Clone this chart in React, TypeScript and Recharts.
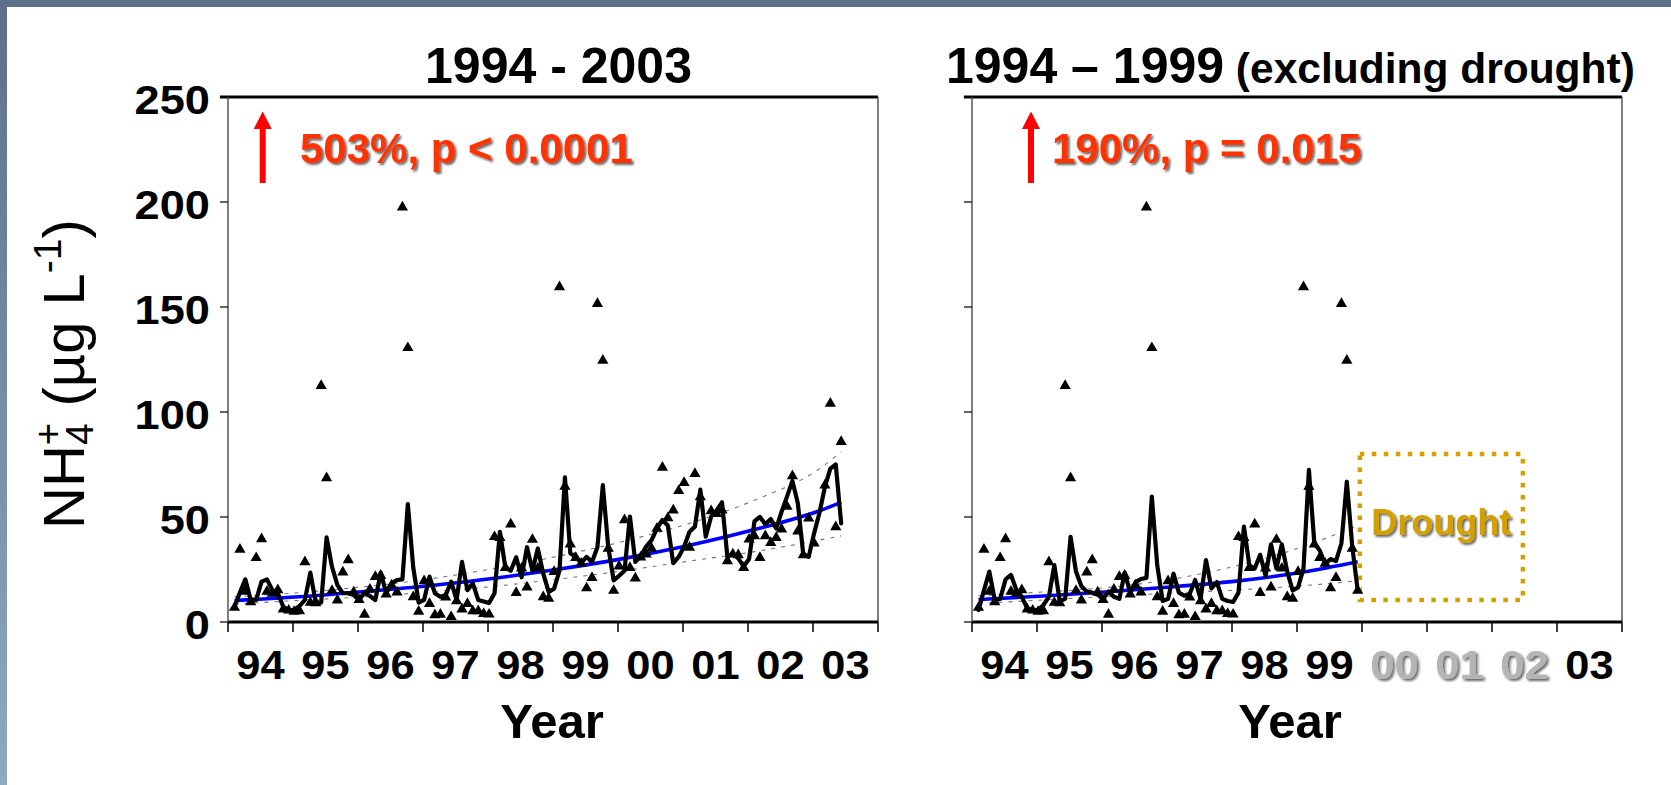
import React from "react";
import {
  ComposedChart,
  Line,
  Scatter,
  XAxis,
  YAxis,
  ReferenceLine,
  ReferenceArea,
} from "recharts";

const FONT = '"Liberation Sans", Arial, Helvetica, sans-serif';

// Monthly NH4+ samples, index 0 = February 1994 (month 1 counted from Jan 1994)
const firstMonth = 1;

const nh4Observed: (number | null)[] = [
  7.3, 35, 15, 10, 31, 40, 15, 14, 15.7, 6.5, 6, 5.4,
  5.7, 29, 9.7, 9.5, 113, 69, 15.4, 10.8, 24.2, 30, 14.6, 11,
  4, 16, 22, 22.5, 13.7, 18, 14.6, 198, 131, 12.4, 5.5, 20,
  9.2, 3.8, 4, 12.2, 2.9, 10.5, 6.5, 9.2, 5.7, 5.7, 4.4, 4.1,
  41, 40.6, 26.3, 47, 14.4, 26, 17, 39.7, 26, 12.4, 11.7, 24.4,
  160, 65, 37.5, 31.1, 28.3, 16.6, 21.5, 152, 125, 35.5, 15.4, 27,
  49, 26.3, 21.3, 31.3, 32.7, 35.5, 45, 74, 50, 53.7, 62.9, 66.8,
  35.9, 71.1, 60, null, 53.3, 52, 53.7, 29.5, 32.7, 32.4, 26.3, 39.8,
  41.4, 31.1, 41.4, 38.2, 40.6, 44.6, 55.5, 70, 43.7, 32.4, 49.8, 38,
  null, 65.6, 104.5, 45.7, 86.3,
];

// seasonal model, whole record 1994-2003
const nh4Fit9403: number[] = [
  7.3, 14, 20.3, 10.5, 10.5, 19.2, 20.3, 15.2, 13.7, 7.3, 5.7, 5.7,
  7.6, 10.5, 23.5, 9.2, 9.2, 40.3, 26.3, 17.6, 13.7, 13.7, 12.9, 10.5,
  14, 12.4, 10.5, 23.5, 13.7, 18.4, 20, 20.3, 56.2, 26, 9.2, 10.5,
  21.6, 13.7, 12, 12.9, 19.2, 10.5, 28.6, 15.2, 18.4, 10.5, 9.8, 9,
  13.7, 42.9, 26, 24.4, 30.8, 21.3, 35.6, 24.4, 35, 23, 14.3, 15.9,
  24.4, 68.9, 32.7, 31, 28.2, 31, 28.6, 35.6, 65.2, 35.6, 19.8, 22,
  24.4, 50.2, 28.6, 31.5, 35.9, 39, 44.6, 48.6, 46, 28, 31, 35.9,
  43, 45.4, 63, 40.6, 50.2, 53, 57, 31, 32.7, 30.3, 26.5, 30,
  48, 50, 46.5, 49, 44.5, 52.5, 59.7, 67.2, 56.5, 32.3, 31, 42.2,
  52, 64.4, 73, 75, 47,
];

// seasonal model, 1994-1999 only
const nh4Fit9499: number[] = [
  5.7, 15, 24, 10.5, 11, 20.3, 22.4, 15.2, 12, 6.5, 5.7, 5.7,
  8.1, 12.1, 27.1, 9.8, 11, 40.6, 24, 17, 14.5, 14, 13, 11,
  14.5, 12, 11, 23.5, 14, 19, 20.5, 21, 59.7, 27, 10, 11,
  23, 14, 12.5, 13.5, 20, 11, 29.5, 16, 19, 11, 10, 9.5,
  14, 45.4, 27, 25.5, 32, 22, 37, 25.5, 37, 24, 15, 16.5,
  25.5, 72.4, 37.5, 34, 27.5, 30, 29, 37.5, 66.8, 36, 15.2,
];

// long-term trend with 95% band, 1994-2003
const trendMonths9403 = [1, 13, 25, 37, 49, 61, 73, 85, 97, 109, 113];
const trend9403 = [10.2, 12, 14.5, 17.3, 20.8, 25.2, 30.3, 36.5, 44, 53, 57];
const upper9403 = [12, 14, 16.8, 20.5, 25.5, 31.5, 38.5, 47, 58, 73, 81];
const lower9403 = [8.5, 10.3, 12, 14.3, 17, 20.5, 24.5, 29, 33.5, 39, 41];

// long-term trend with 95% band, 1994-1999
const trendMonths9499 = [1, 13, 25, 37, 49, 61, 71];
const trend9499 = [10.7, 12.4, 14.4, 16.8, 19.6, 23.8, 28.7];
const upper9499 = [12.5, 14.3, 16.5, 20.5, 27, 36, 46];
const lower9499 = [8.8, 10.5, 12.2, 13.8, 15.3, 17.3, 19.6];

const yearLabels = ["94", "95", "96", "97", "98", "99", "00", "01", "02", "03"];
const droughtYears = ["00", "01", "02"];
const monthTicks = [0, 12, 24, 36, 48, 60, 72, 84, 96, 108, 120];
const valueTicks = [0, 50, 100, 150, 200, 250];

type Pt = { x: number; v: number };

const monthly = (values: (number | null)[]): Pt[] =>
  values.flatMap((v, i) => (v == null ? [] : [{ x: firstMonth + i + 0.2, v }]));

const byMonth = (months: number[], values: number[]): Pt[] =>
  months.map((m, i) => ({ x: m + 0.2, v: values[i] }));

const Triangle = (props: any) => {
  const { cx, cy } = props;
  if (cx == null || cy == null) return <g />;
  return (
    <polygon
      points={`${cx},${cy - 5.5} ${cx + 5.6},${cy + 4.2} ${cx - 5.6},${cy + 4.2}`}
      fill="#000"
    />
  );
};

// value labels are drawn a little wider than the plain bold face
const ValueTick = ({ x, y, payload }: any) => (
  <text
    transform={`translate(${x}, ${y + 17}) scale(1.13, 1)`}
    textAnchor="end"
    fontFamily={FONT}
    fontWeight="bold"
    fontSize={40}
    fill="#000"
  >
    {payload.value}
  </text>
);

const makeYearTick = (muted: string[]) => ({ x, y, payload }: any) => {
  const i = monthTicks.indexOf(payload.value);
  if (i < 0 || i >= yearLabels.length) return <g />;
  const label = yearLabels[i];
  const grey = muted.includes(label);
  return (
    <text
      transform={`translate(${x + 32.5}, ${y + 45}) scale(1.06, 1)`}
      textAnchor="middle"
      fontFamily={FONT}
      fontWeight="bold"
      fontSize={41}
      fill={grey ? "#b4b4b4" : "#000"}
      filter={grey ? "url(#softShadow)" : undefined}
    >
      {label}
    </text>
  );
};

interface PanelProps {
  left: number;
  fit: number[];
  trendMonths: number[];
  trend: number[];
  upper: number[];
  lower: number[];
  showValues: boolean;
  muted: string[];
  drought?: boolean;
}

function Panel({
  left,
  fit,
  trendMonths,
  trend,
  upper,
  lower,
  showValues,
  muted,
  drought,
}: PanelProps) {
  const obs = monthly(nh4Observed.slice(0, fit.length));
  const fitted = monthly(fit);
  return (
    <div style={{ position: "absolute", left, top: 0 }}>
      <ComposedChart
        width={900}
        height={785}
        margin={{ top: 97, right: 22, left: 0, bottom: 0 }}
      >
        <XAxis
          type="number"
          dataKey="x"
          domain={[0, 120]}
          ticks={monthTicks}
          interval={0}
          height={163}
          axisLine={{ stroke: "#000", strokeWidth: 3 }}
          tickLine={{ stroke: "#000", strokeWidth: 1.5 }}
          tickSize={10}
          tick={makeYearTick(muted)}
        />
        <YAxis
          type="number"
          dataKey="v"
          domain={[0, 250]}
          ticks={valueTicks}
          interval={0}
          width={228}
          axisLine={{ stroke: "#555", strokeWidth: 1.5 }}
          tickLine={{ stroke: "#000", strokeWidth: 1.2 }}
          tickSize={8}
          tickMargin={10}
          tick={showValues ? ValueTick : () => <g />}
        />
        <ReferenceLine
          segment={[
            { x: -1.5, y: 250 },
            { x: 120, y: 250 },
          ]}
          stroke="#000"
          strokeWidth={3}
          ifOverflow="visible"
        />
        <ReferenceLine x={120} stroke="#555" strokeWidth={1.5} />
        {drought && (
          <ReferenceArea
            x1={71.6}
            x2={101.7}
            y1={10.5}
            y2={80}
            fill="none"
            stroke="#d4a000"
            strokeWidth={4.5}
            strokeDasharray="4.5 7.5"
            ifOverflow="visible"
            label={({ viewBox }: any) => (
              <text
                x={viewBox.x + viewBox.width / 2}
                y={viewBox.y + viewBox.height / 2 + 8}
                textAnchor="middle"
                fontFamily={FONT}
                fontWeight="bold"
                fontSize={36}
                fill="#d4a000"
                filter="url(#softShadow)"
              >
                Drought
              </text>
            )}
          />
        )}
        <Line
          data={byMonth(trendMonths, upper)}
          dataKey="v"
          type="monotone"
          stroke="#777"
          strokeWidth={1.1}
          strokeDasharray="4 6"
          dot={false}
          isAnimationActive={false}
        />
        <Line
          data={byMonth(trendMonths, lower)}
          dataKey="v"
          type="monotone"
          stroke="#777"
          strokeWidth={1.1}
          strokeDasharray="4 6"
          dot={false}
          isAnimationActive={false}
        />
        <Line
          data={byMonth(trendMonths, trend)}
          dataKey="v"
          type="monotone"
          stroke="#0000ff"
          strokeWidth={3.6}
          dot={false}
          isAnimationActive={false}
        />
        <Line
          data={fitted}
          dataKey="v"
          type="linear"
          stroke="#000"
          strokeWidth={4.2}
          strokeLinejoin="round"
          strokeLinecap="round"
          dot={false}
          isAnimationActive={false}
        />
        <Scatter data={obs} dataKey="v" shape={Triangle} isAnimationActive={false} />
      </ComposedChart>
    </div>
  );
}

function Arrow({ cx }: { cx: number }) {
  return (
    <g fill="#ff0000">
      <rect x={cx - 3} y={127} width={6} height={56} />
      <polygon points={`${cx - 9},${129} ${cx + 9},${129} ${cx},${111.5}`} />
    </g>
  );
}

export default function App() {
  return (
    <div
      style={{
        position: "absolute",
        left: 0,
        top: 0,
        width: 1671,
        height: 785,
        overflow: "hidden",
        background: "#fff",
      }}
    >
      <Panel
        left={0}
        fit={nh4Fit9403}
        trendMonths={trendMonths9403}
        trend={trend9403}
        upper={upper9403}
        lower={lower9403}
        showValues
        muted={[]}
      />
      <Panel
        left={744}
        fit={nh4Fit9499}
        trendMonths={trendMonths9499}
        trend={trend9499}
        upper={upper9499}
        lower={lower9499}
        showValues={false}
        muted={droughtYears}
        drought
      />
      <svg
        width={1671}
        height={785}
        style={{ position: "absolute", left: 0, top: 0, pointerEvents: "none" }}
      >
        <defs>
          <filter id="softShadow" x="-10%" y="-20%" width="130%" height="150%">
            <feDropShadow dx="2" dy="2" stdDeviation="1.3" floodColor="#000" floodOpacity="0.6" />
          </filter>
          <linearGradient id="frameSide" x1="0" y1="0" x2="0" y2="1">
            <stop offset="0" stopColor="#5d7087" />
            <stop offset="1" stopColor="#8ea8c6" />
          </linearGradient>
        </defs>
        <rect x={0} y={0} width={1671} height={7} fill="#5d7087" />
        <rect x={0} y={0} width={7} height={785} fill="url(#frameSide)" />

        <g fontFamily={FONT} fontWeight="bold" fill="#000">
          <text x={558.5} y={83} textAnchor="middle" fontSize={50}>
            1994 - 2003
          </text>
          <text x={946} y={83} fontSize={50}>
            1994 – 1999<tspan fontSize={42.5}> (excluding drought)</tspan>
          </text>
          <text x={552} y={738} textAnchor="middle" fontSize={49}>
            Year
          </text>
          <text x={1290} y={738} textAnchor="middle" fontSize={49}>
            Year
          </text>
        </g>

        <g transform="translate(84, 374) rotate(-90)">
          <text x={0} y={0} textAnchor="middle" fontFamily={FONT} fontSize={58} fill="#000">
            NH<tspan fontSize={39} dy={9}>4</tspan>
            <tspan fontSize={39} dx={-22} dy={-32}>+</tspan>
            <tspan dy={23}> (µg L</tspan>
            <tspan fontSize={39} dy={-23}>-1</tspan>
            <tspan dy={23}>)</tspan>
          </text>
        </g>

        <Arrow cx={262.7} />
        <Arrow cx={1031} />
        <g fontFamily={FONT} fontWeight="bold" fontSize={42} fill="#ff3300" filter="url(#softShadow)">
          <text x={300} y={163}>503%, p &lt; 0.0001</text>
          <text x={1052} y={163}>190%, p = 0.015</text>
        </g>
      </svg>
    </div>
  );
}
